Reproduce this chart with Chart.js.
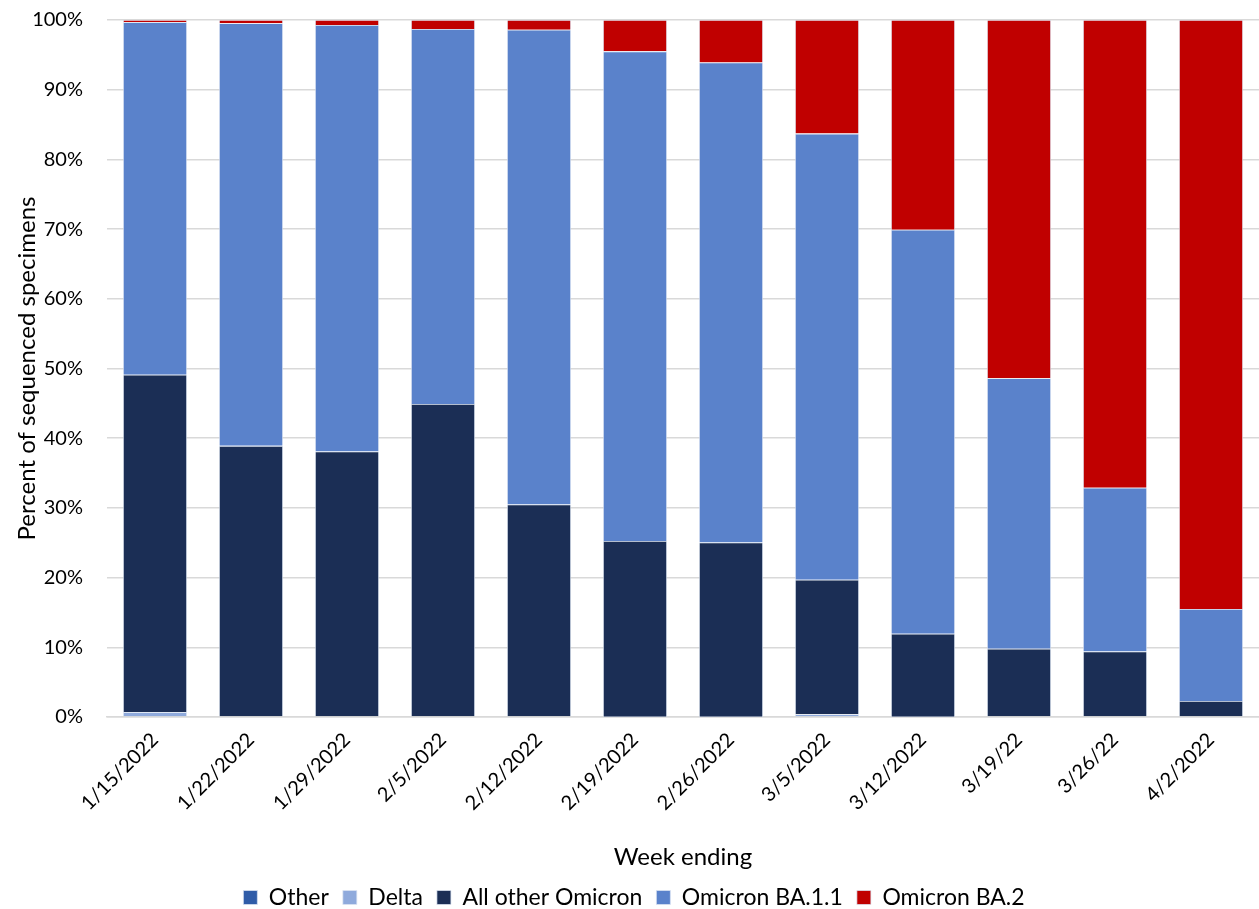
<!DOCTYPE html>
<html>
<head>
<meta charset="utf-8">
<script src="https://cdn.jsdelivr.net/npm/chart.js@4"></script>
<style>
  body { margin: 0; background: #fff; }
  #wrap { width: 1259px; height: 909px; }
</style>
</head>
<body>
<div id="wrap"><canvas id="chart" width="1259" height="909"></canvas></div>
<script>
var weeks = ['1/15/2022', '1/22/2022', '1/29/2022', '2/5/2022', '2/12/2022', '2/19/2022',
             '2/26/2022', '3/5/2022', '3/12/2022', '3/19/22', '3/26/22', '4/2/2022'];

var other      = [0, 0, 0, 0, 0, 0, 0, 0, 0, 0, 0, 0];
var delta      = [0.7, 0.1, 0.1, 0.1, 0.1, 0.05, 0.05, 0.4, 0.05, 0, 0, 0];
var allOtherOm = [48.4, 38.8, 38.0, 44.8, 30.4, 25.2, 25.0, 19.3, 11.9, 9.8, 9.4, 2.3];
var ba11       = [50.6, 60.65, 61.2, 53.8, 68.1, 70.25, 68.85, 64.0, 57.95, 38.8, 23.5, 13.2];
var ba2        = [0.3, 0.45, 0.7, 1.3, 1.4, 4.5, 6.1, 16.3, 30.1, 51.4, 67.1, 84.5];

var yTicks = [0, 10, 20, 30, 40, 50, 60, 70, 80, 90, 100];

var FONT = 'Lato, "Open Sans", sans-serif';

function series(label, values, color) {
    return {
        label: label,
        data: values,
        backgroundColor: color,
        borderColor: 'rgba(220,228,242,0.9)',
        borderWidth: 0.8,
        categoryPercentage: 1.0,
        barPercentage: 0.667
    };
}

var ctx = document.getElementById('chart').getContext('2d');
var myChart = new Chart(ctx, {
    type: 'bar',
    data: {
        labels: weeks,
        datasets: [
            series('Other', other, '#2F5CA8'),
            series('Delta', delta, '#8FAADC'),
            series('All other Omicron', allOtherOm, '#1B2E55'),
            series('Omicron BA.1.1', ba11, '#5A82CB'),
            series('Omicron BA.2', ba2, '#C00000')
        ]
    },
    options: {
        responsive: false,
        animation: false,
        layout: { padding: { top: 20, right: 0, left: 9, bottom: -10 } },
        plugins: {
            legend: {
                position: 'bottom',
                labels: {
                    boxWidth: 14,
                    boxHeight: 14,
                    padding: 14,
                    color: '#000',
                    font: { family: FONT, size: 23 }
                }
            },
            tooltip: { enabled: false }
        },
        scales: {
            x: {
                stacked: true,
                grid: { display: false },
                border: { color: '#d9d9d9', width: 1.5 },
                afterFit: function (axis) { axis.height = 155; },
                ticks: {
                    color: '#000',
                    minRotation: 45,
                    maxRotation: 45,
                    font: { family: FONT, size: 20 }
                },
                title: {
                    display: true,
                    text: 'Week ending',
                    color: '#000',
                    font: { family: FONT, size: 24 },
                    padding: { top: 0, bottom: 0 }
                }
            },
            y: {
                stacked: true,
                min: 0,
                max: 100,
                afterBuildTicks: function (axis) {
                    axis.ticks = yTicks.map(function (v) { return { value: v }; });
                },
                afterFit: function (axis) {
                    axis.width = 98;
                    axis.paddingTop = 0;
                    axis.paddingBottom = 0;
                },
                grid: { color: '#d9d9d9', lineWidth: 1.5, drawTicks: false },
                border: { display: false },
                ticks: {
                    color: '#000',
                    padding: 24,
                    font: { family: FONT, size: 20 },
                    callback: function (v) { return v + '%'; }
                },
                title: {
                    display: true,
                    text: 'Percent of sequenced specimens',
                    color: '#000',
                    font: { family: FONT, size: 24 },
                    padding: { top: 4, bottom: 4 }
                }
            }
        }
    }
});
</script>
</body>
</html>
